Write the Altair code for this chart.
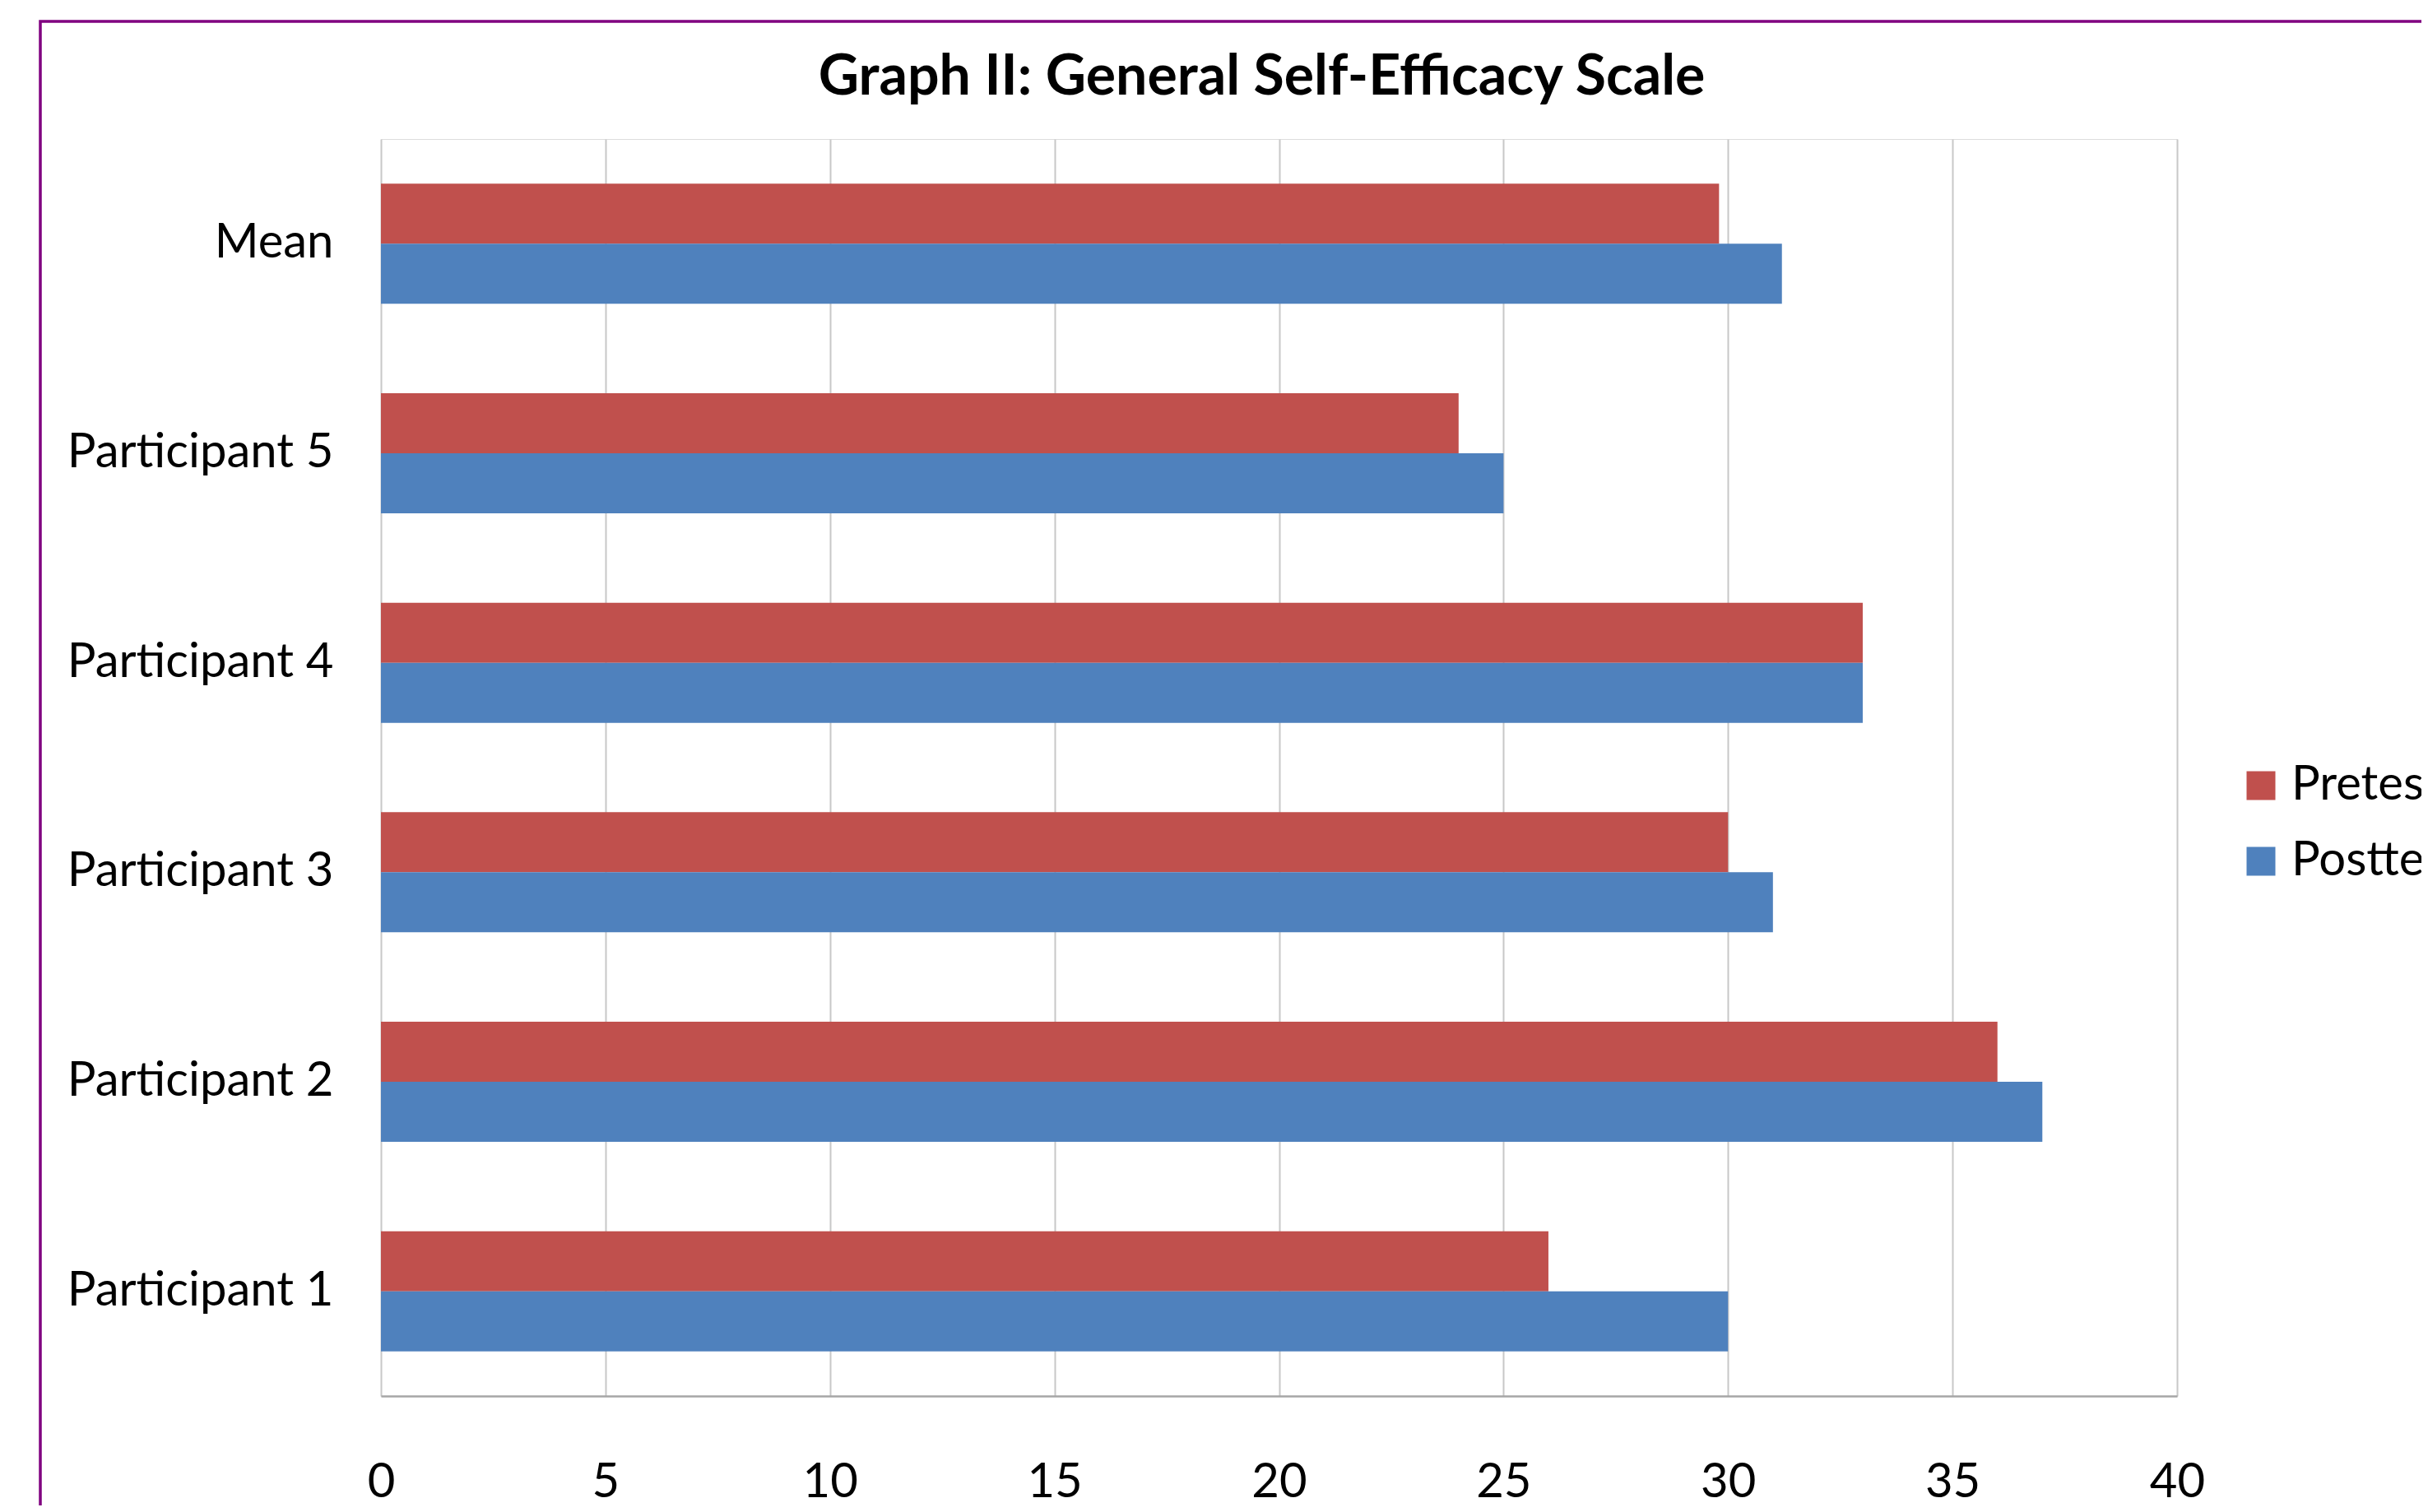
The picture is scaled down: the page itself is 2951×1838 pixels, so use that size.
import altair as alt
import pandas as pd

categories = ["Mean", "Participant 5", "Participant 4", "Participant 3", "Participant 2", "Participant 1"]
series = ["Pretest", "Posttest"]
pretest = [29.8, 24, 33, 30, 36, 26]
posttest = [31.2, 25, 33, 31, 37, 30]
x_ticks = [0, 5, 10, 15, 20, 25, 30, 35, 40]
title_text = "Graph II: General Self-Efficacy Scale"
colors = ["#C0504D", "#4F81BD"]

rows = []
for c, a, b in zip(categories, pretest, posttest):
    rows.append({"cat": c, "series": "Pretest", "value": a})
    rows.append({"cat": c, "series": "Posttest", "value": b})
df = pd.DataFrame(rows)

FONT = "Lato"
W, H = 2183, 1528

bars = alt.Chart(df).mark_bar(size=73).encode(
    y=alt.Y("cat:N", sort=categories, title=None,
            scale=alt.Scale(paddingInner=0.4268, paddingOuter=0.2134),
            axis=alt.Axis(labelFont=FONT, labelFontSize=58, labelColor="#000000",
                          labelPadding=58, ticks=False, domain=False, grid=False,
                          labelLimit=1000)),
    yOffset=alt.YOffset("series:N", sort=series, scale=alt.Scale(paddingInner=0, paddingOuter=0)),
    x=alt.X("value:Q", title=None,
            scale=alt.Scale(domain=[0, 40], nice=False),
            axis=alt.Axis(values=x_ticks, labelFont=FONT, labelFontSize=58, labelColor="#000000",
                          labelPadding=76, ticks=False, domain=True, domainColor="#A6A6A6",
                          domainWidth=2.5, grid=True, gridColor="#C8C8C8", gridWidth=2,
                          labelFlush=False)),
    color=alt.Color("series:N", sort=series,
                    scale=alt.Scale(domain=series, range=colors),
                    legend=alt.Legend(title=None, orient="none", legendX=2256, legendY=757,
                                      symbolType="square", symbolSize=1225, symbolStrokeWidth=0,
                                      labelFont=FONT, labelFontSize=58, labelColor="#000000",
                                      labelOffset=8, rowPadding=34, padding=0, labelLimit=1000)),
)

border = alt.Chart(pd.DataFrame({"k": [0]})).mark_rect(
    fill=None, stroke="#800080", strokeWidth=3.5, clip=False
).encode(
    x=alt.value(-414), x2=alt.value(W + 600),
    y=alt.value(-143), y2=alt.value(H + 600),
)

chart = alt.layer(border, bars).properties(
    width=W, height=H,
    title=alt.TitleParams(title_text, font=FONT, fontSize=68, fontWeight="bold", color="#000000",
                          anchor="middle", frame="group", dx=-21, offset=-159, baseline="alphabetic"),
    autosize=alt.AutoSizeParams(type="none"),
    padding={"left": 455, "top": 161, "right": 297, "bottom": 133},
).configure_view(stroke=None).configure(background="#FFFFFF")

chart.save("out.html", embed_options={"renderer": "svg", "actions": False})
